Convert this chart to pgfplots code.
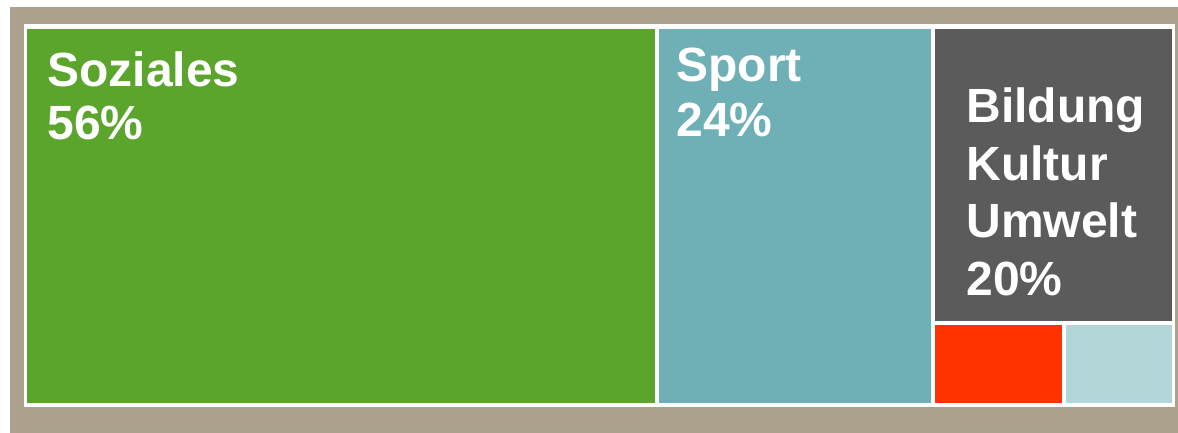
\documentclass[border=0pt]{standalone}
\usepackage{pgfplots}
\pgfplotsset{compat=1.18}
\usepackage{fontspec}
\setmainfont{Liberation Sans}

\definecolor{frame}{HTML}{ABA18C}
\definecolor{soz}{HTML}{5BA52D}
\definecolor{spo}{HTML}{6EB0B6}
\definecolor{bil}{HTML}{5B5B5B}
\definecolor{rot}{HTML}{FF3300}
\definecolor{hell}{HTML}{B3D6D8}

\begin{document}
\begin{tikzpicture}
\begin{axis}[
  scale only axis, width=589pt, height=216.5pt,
  xmin=0, xmax=1178, ymin=0, ymax=433, y dir=reverse,
  hide axis, clip=true,
  every axis plot/.append style={draw=none, mark=none},
]
% canvas, frame, white mat
\addplot[fill=white] coordinates {(0,0) (1178,0) (1178,433) (0,433)};
\addplot[fill=frame] coordinates {(10,7) (1178,7) (1178,433) (10,433)};
\addplot[fill=white] coordinates {(24,24) (1175,24) (1175,407) (24,407)};
% tiles
\addplot[fill=soz]  coordinates {(27,29) (655,29) (655,403) (27,403)};
\addplot[fill=spo]  coordinates {(659,29) (931,29) (931,403) (659,403)};
\addplot[fill=bil]  coordinates {(935,29) (1172,29) (1172,321) (935,321)};
\addplot[fill=rot]  coordinates {(935,325) (1062,325) (1062,403) (935,403)};
\addplot[fill=hell] coordinates {(1066,325) (1172,325) (1172,403) (1066,403)};

\tikzset{lbl/.style={anchor=base west, inner sep=0pt, text=white,
  font=\fontsize{24}{28}\selectfont\bfseries}}
\node[lbl] at (axis cs:47,87)  {Soziales};
\node[lbl] at (axis cs:47,140) {56\%};
\node[lbl] at (axis cs:676,82) {Sport};
\node[lbl] at (axis cs:676,137){24\%};
\node[lbl] at (axis cs:966,123){Bildung};
\node[lbl] at (axis cs:966,180){Kultur};
\node[lbl] at (axis cs:966,237){Umwelt};
\node[lbl] at (axis cs:966,295){20\%};
\end{axis}
\end{tikzpicture}
\end{document}
